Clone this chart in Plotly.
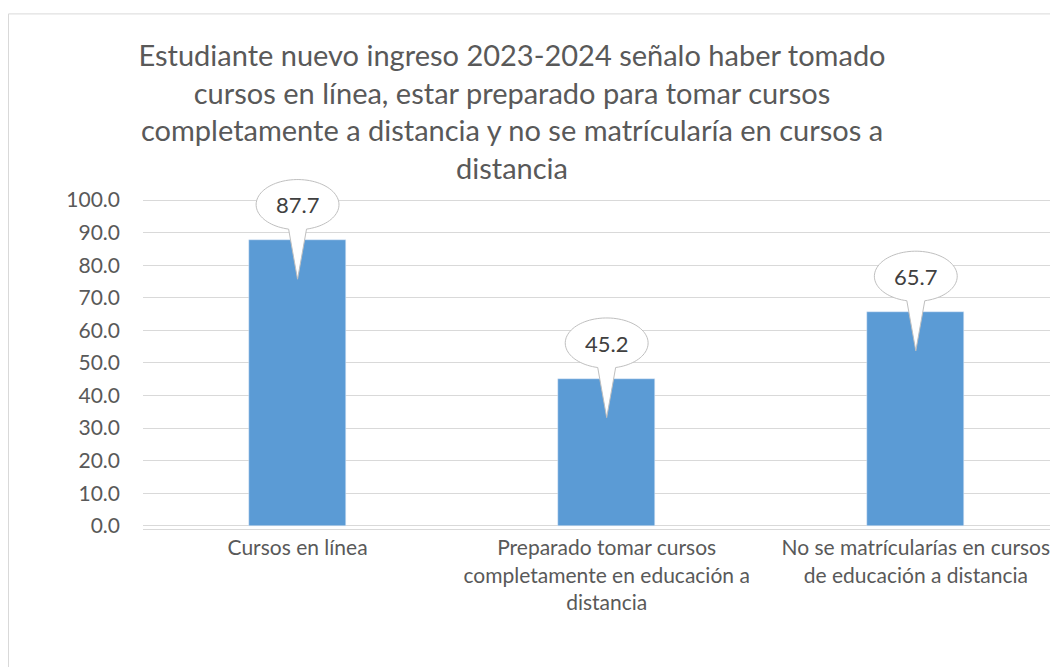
import numpy as np
import plotly.graph_objects as go

categorias = [
    "Cursos en línea",
    "Preparado tomar cursos<br>completamente en educación a<br>distancia",
    "No se matrícularías en cursos<br>de educación a distancia",
]
porcentajes = [87.7, 45.2, 65.7]
ticks_y = [0, 10, 20, 30, 40, 50, 60, 70, 80, 90, 100]
titulo = (
    "Estudiante nuevo ingreso 2023-2024 señalo haber tomado<br>"
    "cursos en línea, estar preparado para tomar cursos<br>"
    "completamente a distancia y no se matrícularía en cursos a<br>"
    "distancia"
)

FONT = "Lato"
GRIS = "#595959"
posiciones = list(range(len(categorias)))

# the page body adds an 8px margin, so the figure is 8px smaller
W, H = 1050, 659

fig = go.Figure(
    go.Bar(
        x=posiciones,
        y=porcentajes,
        width=0.314,
        marker_color="#5B9BD5",
        hoverinfo="skip",
    )
)


def globo(xc, valor):
    # callout: ellipse above the bar with a wedge pointing into it
    a, b = 0.134, 7.7
    cy = valor + 10.9
    punta = valor - 12.0
    d = np.degrees(np.arcsin(0.029 / a))
    ang = np.radians(np.linspace(-90 + d, 270 - d, 90))
    xs = xc + a * np.cos(ang)
    ys = cy + b * np.sin(ang)
    path = "M " + " L ".join(f"{x:.4f},{y:.3f}" for x, y in zip(xs, ys))
    path += f" L {xc:.4f},{punta:.3f} Z"
    return path, cy


for xc, v in zip(posiciones, porcentajes):
    path, cy = globo(xc, v)
    fig.add_shape(
        type="path", path=path, xref="x", yref="y",
        fillcolor="white", line=dict(color="#bfbfbf", width=1), layer="above",
    )
    fig.add_annotation(
        x=xc, y=cy, text=f"{v:.1f}", showarrow=False,
        font=dict(family=FONT, size=22, color="#404040"),
    )

# chart border
fig.add_shape(
    type="rect", xref="paper", yref="paper",
    x0=-0.147, x1=1.2, y0=-0.6, y1=1.451,
    line=dict(color="#d9d9d9", width=1), fillcolor="rgba(0,0,0,0)", layer="below",
)

fig.update_layout(
    width=W,
    height=H,
    margin=dict(l=135, r=0, t=166, b=138),
    plot_bgcolor="white",
    paper_bgcolor="white",
    showlegend=False,
    bargap=0,
    title=dict(
        text=titulo,
        x=504 / W,
        xanchor="center",
        y=1 - 58 / H,
        yanchor="top",
        font=dict(family=FONT, size=29, color=GRIS),
    ),
)

fig.update_xaxes(
    range=[-0.5, 2.46],
    tickvals=posiciones,
    ticktext=categorias,
    showgrid=False,
    showline=True,
    linecolor="#d9d9d9",
    linewidth=1,
    ticks="",
    tickfont=dict(family=FONT, size=21, color=GRIS),
    fixedrange=True,
)

fig.update_yaxes(
    range=[-1, 108],
    tickvals=ticks_y,
    tickformat=".1f",
    showgrid=True,
    gridcolor="#d9d9d9",
    gridwidth=1,
    zeroline=False,
    showline=False,
    ticks="",
    ticklabelstandoff=22,
    tickfont=dict(family=FONT, size=21, color=GRIS),
    fixedrange=True,
)

fig.write_html("out.html")
